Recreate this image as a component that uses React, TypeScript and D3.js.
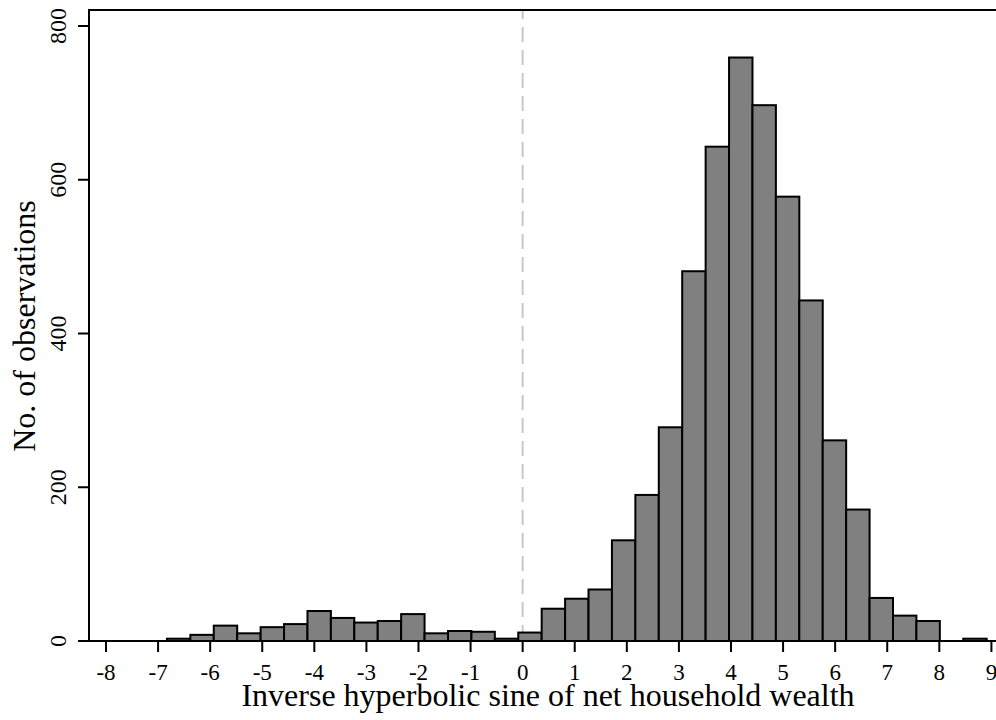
import React from "react";
import * as d3 from "d3";

// Histogram: inverse hyperbolic sine of net household wealth
const binStart = -6.83;
const binWidth = 0.4497;
const counts = [
  3, 8, 20, 10, 18, 22, 39, 30, 24, 26, 35, 10, 13, 12, 3, 11, 42, 55, 67,
  131, 190, 278, 481, 643, 759, 697, 578, 443, 261, 171, 56, 33, 26, 0, 3,
];
const xTicks = [-8, -7, -6, -5, -4, -3, -2, -1, 0, 1, 2, 3, 4, 5, 6, 7, 8, 9];
const yTicks = [0, 200, 400, 600, 800];
const refLineX = 0;
const xTitle = "Inverse hyperbolic sine of net household wealth";
const yTitle = "No. of observations";

const W = 996;
const H = 720;
const FONT = "'Liberation Serif', 'Times New Roman', serif";

export default function App() {
  const left = 89;
  const top = 10;
  const bottom = 641;
  const x = d3.scaleLinear().domain([-8, 9]).range([106, 991.4]);
  const y = d3.scaleLinear().domain([0, 800]).range([bottom, 26]);

  const bins = counts.map((c, i) => ({
    x0: binStart + i * binWidth,
    x1: binStart + (i + 1) * binWidth,
    c,
  }));

  return (
    <svg
      width={W}
      height={H}
      style={{ position: "absolute", left: 0, top: 0, background: "#fff" }}
      fontFamily={FONT}
    >
      <rect x={0} y={0} width={W} height={H} fill="#fff" />
      {/* reference line */}
      <line
        x1={x(refLineX)}
        x2={x(refLineX)}
        y1={top}
        y2={bottom}
        stroke="#c8c8c8"
        strokeWidth={2}
        strokeDasharray="15 8"
        strokeDashoffset={6}
      />
      {/* bars */}
      {bins
        .filter((b) => b.c > 0)
        .map((b, i) => (
          <rect
            key={i}
            x={x(b.x0)}
            y={y(b.c)}
            width={x(b.x1) - x(b.x0)}
            height={bottom - y(b.c)}
            fill="#808080"
            stroke="#000"
            strokeWidth={2}
          />
        ))}
      {/* frame */}
      <line x1={left} x2={W} y1={top} y2={top} stroke="#000" strokeWidth={2} />
      <line x1={left} x2={left} y1={top - 1} y2={bottom + 1} stroke="#000" strokeWidth={2} />
      <line x1={left - 1} x2={W} y1={bottom} y2={bottom} stroke="#000" strokeWidth={2} />
      {/* x ticks */}
      {xTicks.map((t) => (
        <g key={t}>
          <line x1={x(t)} x2={x(t)} y1={bottom} y2={bottom + 11} stroke="#000" strokeWidth={2} />
          <text x={x(t)} y={680} textAnchor="middle" fontSize={23} fill="#000">
            {t}
          </text>
        </g>
      ))}
      {/* y ticks */}
      {yTicks.map((t) => (
        <g key={t}>
          <line x1={left - 11} x2={left} y1={y(t)} y2={y(t)} stroke="#000" strokeWidth={2} />
          <text
            transform={`translate(66,${y(t)}) rotate(-90)`}
            textAnchor="middle"
            fontSize={24}
            fill="#000"
          >
            {t}
          </text>
        </g>
      ))}
      <text x={548} y={706} textAnchor="middle" fontSize={32} fill="#000">
        {xTitle}
      </text>
      <text
        transform={`translate(35,326) rotate(-90)`}
        textAnchor="middle"
        fontSize={32}
        fill="#000"
      >
        {yTitle}
      </text>
    </svg>
  );
}
